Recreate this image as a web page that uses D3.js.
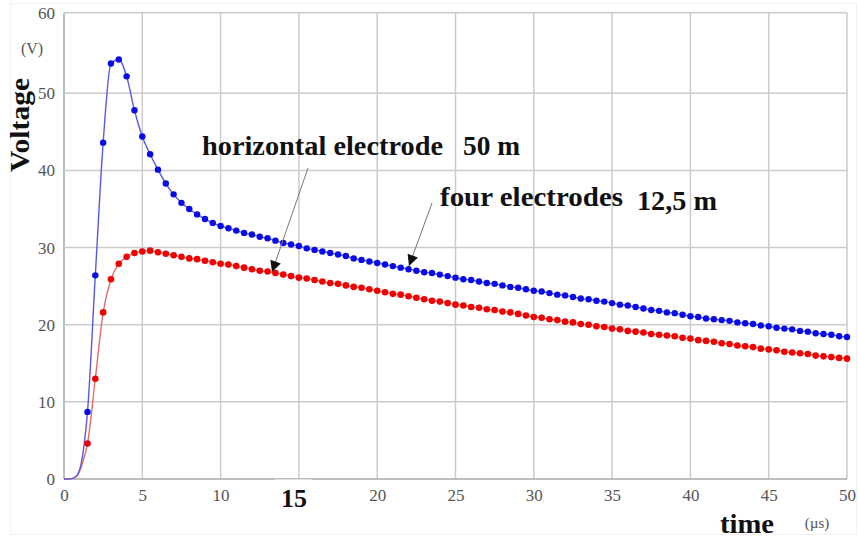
<!DOCTYPE html>
<html>
<head>
<meta charset="utf-8">
<script src="https://cdn.jsdelivr.net/npm/d3@7/dist/d3.min.js"></script>
<style>
  html, body { margin: 0; padding: 0; background: #fff; }
  svg { display: block; }
  text { font-family: "Liberation Serif", "Times New Roman", serif; }
</style>
</head>
<body>
<svg id="chart" width="859" height="538"></svg>
<script>
// ---- data ----
const xTicks = [0, 5, 10, 15, 20, 25, 30, 35, 40, 45, 50];
const yTicks = [0, 10, 20, 30, 40, 50, 60];
const markerTimes = d3.range(1.5, 50.001, 0.5); // sample times (µs), every 0.5 µs
const leadTimes = [0, 0.5, 0.8, 1.0, 1.2];       // line-only start of the curves
const blueLead = [0, 0.05, 0.4, 1.2, 3.2];
const redLead  = [0, 0.05, 0.35, 1.0, 2.2];
const blueValues = [
  8.7, 26.4, 43.6, 53.7, 54.2, 52.1, 47.8,
  44.4, 42.1, 40.1, 38.3, 36.9, 35.8, 35.0, 34.3, 33.7, 33.2,
  32.8, 32.5, 32.2, 31.9, 31.7, 31.4, 31.2, 30.9, 30.6, 30.4,
  30.2, 29.9, 29.7, 29.5, 29.3, 29.1, 28.9, 28.6, 28.4, 28.2,
  28.0, 27.8, 27.6, 27.4, 27.2, 27.0, 26.8, 26.7, 26.5, 26.3,
  26.1, 25.9, 25.8, 25.6, 25.4, 25.3, 25.1, 24.9, 24.8, 24.6,
  24.4, 24.3, 24.1, 23.9, 23.8, 23.6, 23.4, 23.3, 23.1, 23.0,
  22.8, 22.6, 22.5, 22.3, 22.1, 21.9, 21.8, 21.6, 21.5, 21.3,
  21.1, 21.0, 20.8, 20.7, 20.6, 20.5, 20.3, 20.2, 20.1, 19.9,
  19.8, 19.6, 19.5, 19.4, 19.2, 19.1, 18.9, 18.8, 18.7, 18.5,
  18.4
];
const redValues = [
  4.6, 13.0, 21.6, 25.9, 27.9, 28.8, 29.3,
  29.5, 29.6, 29.4, 29.2, 29.0, 28.8, 28.6, 28.5, 28.3, 28.1,
  27.9, 27.8, 27.6, 27.4, 27.2, 27.0, 26.9, 26.7, 26.5, 26.3,
  26.1, 26.0, 25.8, 25.6, 25.4, 25.3, 25.1, 24.9, 24.8, 24.6,
  24.4, 24.2, 24.0, 23.9, 23.7, 23.5, 23.3, 23.1, 23.0, 22.8,
  22.6, 22.5, 22.3, 22.2, 22.0, 21.9, 21.7, 21.6, 21.4, 21.2,
  21.0, 20.9, 20.7, 20.6, 20.4, 20.3, 20.1, 20.0, 19.8, 19.7,
  19.5, 19.4, 19.2, 19.1, 19.0, 18.8, 18.7, 18.6, 18.5, 18.3,
  18.2, 18.0, 17.9, 17.8, 17.6, 17.5, 17.3, 17.2, 17.1, 16.9,
  16.8, 16.7, 16.5, 16.4, 16.3, 16.2, 16.0, 15.9, 15.8, 15.7,
  15.6
];
const labels = {
  y: "Voltage", yUnit: "(V)", x: "time", xUnit: "(\u00b5s)",
  blue: ["horizontal electrode", "50 m"],
  red: ["four electrodes", "12,5 m"],
  replaced: "15"
};

// ---- chart ----
const svg = d3.select("#chart");
const x = d3.scaleLinear().domain([0, 50]).range([64, 847]);
const y = d3.scaleLinear().domain([0, 50, 60]).range([479, 93.3, 12.7]);

// faint outer frame
svg.append("rect").attr("x", 10.5).attr("y", 3.5).attr("width", 846).attr("height", 531)
  .attr("fill", "none").attr("stroke", "#f2f2f2").attr("stroke-width", 1);

// grid
const grid = svg.append("g");
grid.selectAll(".vx").data(xTicks).join("line")
  .attr("x1", d => x(d)).attr("x2", d => x(d))
  .attr("y1", y(60)).attr("y2", y(0))
  .attr("stroke", d => d === 0 ? "#a8a8a8" : "#cbcbcb").attr("stroke-width", 1.5);
grid.selectAll(".hy").data(yTicks).join("line")
  .attr("x1", x(0)).attr("x2", x(50))
  .attr("y1", d => y(d)).attr("y2", d => y(d))
  .attr("stroke", d => d === 0 ? "#a8a8a8" : "#cbcbcb").attr("stroke-width", 1.5);

// axes (labels only); the "15" label is replaced by a bold one below
const ax = svg.append("g").attr("transform", `translate(0,${y(0)})`)
  .call(d3.axisBottom(x).tickValues(xTicks).tickSize(0).tickPadding(10)
    .tickFormat(d => d === +labels.replaced ? "" : d));
ax.select(".domain").remove();
ax.selectAll("text").attr("font-family", "Liberation Serif").attr("font-size", 17).attr("fill", "#555");

const ay = svg.append("g").attr("transform", `translate(${x(0)},0)`)
  .call(d3.axisLeft(y).tickValues(yTicks).tickSize(0).tickPadding(9));
ay.select(".domain").remove();
ay.selectAll("text").attr("font-family", "Liberation Serif").attr("font-size", 17).attr("fill", "#555");

// curves
const blueData = leadTimes.map((t, i) => [t, blueLead[i]]).concat(markerTimes.map((t, i) => [t, blueValues[i]]));
const redData = leadTimes.map((t, i) => [t, redLead[i]]).concat(markerTimes.map((t, i) => [t, redValues[i]]));
const line = d3.line().x(d => x(d[0])).y(d => y(d[1])).curve(d3.curveMonotoneX);

svg.append("path").datum(redData).attr("d", line)
  .attr("fill", "none").attr("stroke", "#e86a6a").attr("stroke-width", 1.4);
svg.append("path").datum(blueData).attr("d", line)
  .attr("fill", "none").attr("stroke", "#5a5ae0").attr("stroke-width", 1.4);

svg.append("g").selectAll("circle").data(markerTimes.map((t, i) => [t, redValues[i]])).join("circle")
  .attr("cx", d => x(d[0])).attr("cy", d => y(d[1])).attr("r", 3.3).attr("fill", "#f00000");
svg.append("g").selectAll("circle").data(markerTimes.map((t, i) => [t, blueValues[i]])).join("circle")
  .attr("cx", d => x(d[0])).attr("cy", d => y(d[1])).attr("r", 3.2).attr("fill", "#0a0ae8");

// replaced "15" label in white box
svg.append("rect").attr("x", 275).attr("y", y(0) + 0.5).attr("width", 37).attr("height", 34).attr("fill", "#fff");
svg.append("text").attr("x", 294).attr("y", 507).attr("text-anchor", "middle")
  .attr("font-size", 26).attr("font-weight", "bold").attr("fill", "#111").text(labels.replaced);

// axis titles
svg.append("text").attr("transform", "translate(29,172) rotate(-90)")
  .attr("font-size", 27).attr("font-weight", "bold").attr("fill", "#111")
  .attr("textLength", 94).attr("lengthAdjust", "spacingAndGlyphs").text(labels.y);
svg.append("text").attr("x", 32).attr("y", 54).attr("text-anchor", "middle")
  .attr("font-size", 16).attr("fill", "#555").text(labels.yUnit);
svg.append("text").attr("x", 720).attr("y", 533)
  .attr("font-size", 28).attr("font-weight", "bold").attr("fill", "#111")
  .attr("textLength", 54).attr("lengthAdjust", "spacingAndGlyphs").text(labels.x);
svg.append("text").attr("x", 817).attr("y", 528).attr("text-anchor", "middle")
  .attr("font-size", 15).attr("fill", "#555").text(labels.xUnit);

// annotations
function note(tx, ty, len, str) {
  svg.append("text").attr("x", tx).attr("y", ty).attr("font-size", 27).attr("font-weight", "bold")
    .attr("fill", "#111").attr("textLength", len).attr("lengthAdjust", "spacingAndGlyphs").text(str);
}
note(202, 155, 241, labels.blue[0]);
note(463, 155, 57, labels.blue[1]);
note(440, 206, 183, labels.red[0]);
note(637, 210, 80, labels.red[1]);

// arrows
svg.append("defs").append("marker").attr("id", "ah").attr("viewBox", "0 0 10 10")
  .attr("refX", 10).attr("refY", 5).attr("markerWidth", 13).attr("markerHeight", 11)
  .attr("markerUnits", "userSpaceOnUse").attr("orient", "auto")
  .append("path").attr("d", "M0,0 L10,5 L0,10 Z").attr("fill", "#111");
svg.append("line").attr("x1", 308).attr("y1", 168).attr("x2", 272).attr("y2", 272)
  .attr("stroke", "#777").attr("stroke-width", 1).attr("marker-end", "url(#ah)");
svg.append("line").attr("x1", 432).attr("y1", 203).attr("x2", 409).attr("y2", 266)
  .attr("stroke", "#777").attr("stroke-width", 1).attr("marker-end", "url(#ah)");
</script>
</body>
</html>
